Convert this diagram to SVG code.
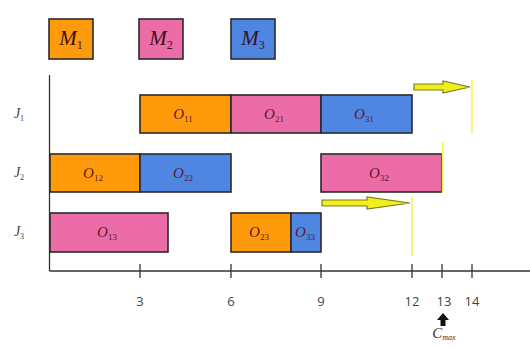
<svg xmlns="http://www.w3.org/2000/svg" width="530" height="347" viewBox="0 0 530 347">
<style>
.bar{stroke:#2a2a2a;stroke-width:1.6}
.o{fill:#ff9a0a}.p{fill:#ec6ca8}.b{fill:#4f86e2}
.lbl{font-family:"Liberation Serif",serif;font-style:italic;font-size:15px;fill:#5a1a2a;text-anchor:middle}
.sub{font-size:9px;font-style:normal}
.leg{font-family:"Liberation Serif",serif;font-style:italic;font-size:21px;fill:#3a1020;text-anchor:middle}
.legsub{font-size:12px;font-style:normal}
.j{font-family:"Liberation Serif",serif;font-style:italic;font-size:14px;fill:#444;text-anchor:middle}
.js{font-size:8px;font-style:normal}
.tick{font-family:"Open Sans","DejaVu Sans",sans-serif;font-size:13px;fill:#444;text-anchor:middle}
.ax{stroke:#333;stroke-width:1.3;fill:none}
.yl{stroke:#f4f04a;stroke-width:1.5}
.arr{fill:#f2ee1a;stroke:#7a7a20;stroke-width:1.2}
</style>
<g id="legend">
<g id="M1"><rect class="bar o" x="49" y="19" width="44" height="40"/><text class="leg" x="71" y="45">M<tspan class="legsub" dy="4">1</tspan></text></g>
<g id="M2"><rect class="bar p" x="139" y="19" width="44" height="40"/><text class="leg" x="161" y="45">M<tspan class="legsub" dy="4">2</tspan></text></g>
<g id="M3"><rect class="bar b" x="231" y="19" width="44" height="40"/><text class="leg" x="253" y="45">M<tspan class="legsub" dy="4">3</tspan></text></g>
</g>
<g id="axes">
<line class="ax" x1="49.5" y1="75" x2="49.5" y2="271"/>
<line class="ax" x1="49.5" y1="271" x2="530" y2="271"/>
<g class="ax">
<line x1="140" y1="264" x2="140" y2="278"/>
<line x1="231" y1="264" x2="231" y2="278"/>
<line x1="321" y1="264" x2="321" y2="278"/>
<line x1="412" y1="264" x2="412" y2="278"/>
<line x1="442" y1="264" x2="442" y2="278"/>
<line x1="472" y1="264" x2="472" y2="278"/>
</g>
<text class="tick" x="140" y="306">3</text>
<text class="tick" x="231" y="306">6</text>
<text class="tick" x="321" y="306">9</text>
<text class="tick" x="412" y="306">12</text>
<text class="tick" x="444" y="306">13</text>
<text class="tick" x="472" y="306">14</text>
</g>
<g id="jobs">
<text class="j" x="19" y="118">J<tspan class="js" dy="3">1</tspan></text>
<text class="j" x="19" y="177">J<tspan class="js" dy="3">2</tspan></text>
<text class="j" x="19" y="236">J<tspan class="js" dy="3">3</tspan></text>
</g>
<g id="J1">
<g id="O11"><rect class="bar o" x="140" y="95" width="91" height="38"/><text class="lbl" x="183" y="119">O<tspan class="sub" dy="3">11</tspan></text></g>
<g id="O21"><rect class="bar p" x="231" y="95" width="90" height="38"/><text class="lbl" x="274" y="119">O<tspan class="sub" dy="3">21</tspan></text></g>
<g id="O31"><rect class="bar b" x="321" y="95" width="91" height="38"/><text class="lbl" x="364" y="119">O<tspan class="sub" dy="3">31</tspan></text></g>
</g>
<g id="J2">
<g id="O12"><rect class="bar o" x="50" y="154" width="90" height="38"/><text class="lbl" x="93" y="178">O<tspan class="sub" dy="3">12</tspan></text></g>
<g id="O22"><rect class="bar b" x="140" y="154" width="91" height="38"/><text class="lbl" x="183" y="178">O<tspan class="sub" dy="3">22</tspan></text></g>
<g id="O32"><rect class="bar p" x="321" y="154" width="121" height="38"/><text class="lbl" x="379" y="178">O<tspan class="sub" dy="3">32</tspan></text></g>
</g>
<g id="J3">
<g id="O13"><rect class="bar p" x="50" y="213" width="118" height="39"/><text class="lbl" x="107" y="237">O<tspan class="sub" dy="3">13</tspan></text></g>
<g id="O23"><rect class="bar o" x="231" y="213" width="60" height="39"/><text class="lbl" x="259" y="237">O<tspan class="sub" dy="3">23</tspan></text></g>
<g id="O33"><rect class="bar b" x="291" y="213" width="30" height="39"/><text class="lbl" x="305" y="237">O<tspan class="sub" dy="3">33</tspan></text></g>
</g>
<g id="connectors">
<line class="yl" x1="472" y1="80" x2="472" y2="134"/>
<line class="yl" x1="442.5" y1="142" x2="442.5" y2="193"/>
<line class="yl" x1="412" y1="197" x2="412" y2="256"/>
<path class="arr" d="M414,84 H443 V81 L470,87 L443,93 V90 H414 Z"/>
<path class="arr" d="M322,200 H367 V197 L410,203 L367,209 V206 H322 Z"/>
<path d="M443,313 L449,320 H445.5 V326 H440.5 V320 H437 Z" fill="#111"/>
<text x="444" y="338" font-family="Liberation Serif,serif" font-style="italic" font-size="15" fill="#333" text-anchor="middle">C<tspan font-size="8" dy="2">max</tspan></text>
</g>
</svg>
